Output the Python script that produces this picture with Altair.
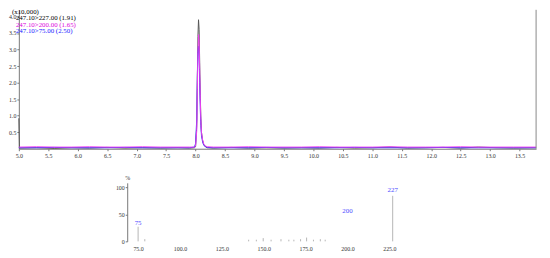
import altair as alt
import pandas as pd

# ---------------- chromatogram data ----------------
times = [5.0, 5.01, 5.3, 5.6, 5.9, 6.2, 6.5, 6.8, 7.1, 7.4, 7.7, 7.9,
         7.98, 8.0, 8.02, 8.03, 8.04, 8.05, 8.06, 8.07, 8.08, 8.09, 8.10, 8.12, 8.14, 8.17, 8.2,
         8.3, 8.6, 8.9, 9.2, 9.5, 9.8, 10.1, 10.4, 10.7, 11.0, 11.3, 11.6, 11.9, 12.2, 12.5,
         12.8, 13.1, 13.4, 13.78]
trace_227 = [0.92, 0.02, 0.03, 0.01, 0.03, 0.02, 0.04, 0.02, 0.03, 0.02, 0.03, 0.02,
             0.03, 0.06, 0.7, 2.1, 3.4, 3.9, 3.6, 2.6, 1.6, 0.9, 0.5, 0.25, 0.12, 0.06, 0.03,
             0.02, 0.04, 0.02, 0.03, 0.02, 0.03, 0.02, 0.04, 0.02, 0.03, 0.05, 0.02, 0.03, 0.04,
             0.02, 0.05, 0.03, 0.02, 0.03]
trace_200 = [0.05, 0.05, 0.06, 0.05, 0.05, 0.06, 0.05, 0.05, 0.06, 0.05, 0.05, 0.05,
             0.05, 0.08, 0.55, 1.8, 2.9, 3.45, 3.25, 2.4, 1.5, 0.85, 0.5, 0.26, 0.14, 0.08, 0.06,
             0.05, 0.05, 0.06, 0.05, 0.05, 0.05, 0.06, 0.05, 0.05, 0.05, 0.06, 0.05, 0.05, 0.05,
             0.06, 0.05, 0.05, 0.05, 0.05]
trace_75 = [0.03, 0.03, 0.03, 0.04, 0.03, 0.03, 0.03, 0.04, 0.03, 0.03, 0.03, 0.03,
            0.05, 0.15, 0.9, 2.2, 2.9, 3.1, 2.8, 2.0, 1.2, 0.7, 0.4, 0.2, 0.1, 0.06, 0.04,
            0.03, 0.03, 0.03, 0.04, 0.03, 0.03, 0.03, 0.03, 0.04, 0.03, 0.03, 0.03, 0.03, 0.04,
            0.03, 0.03, 0.03, 0.03, 0.03]
legend_texts = ["(x10,000)", "247.10>227.00 (1.91)", "247.10>200.00 (1.65)", "247.10>75.00 (2.50)"]
legend_colors = ["#000000", "#000000", "#dd00dd", "#1a1aff"]
trace_colors = ["#555555", "#f040f0", "#3333ff"]
top_x_ticks = [5.0, 5.5, 6.0, 6.5, 7.0, 7.5, 8.0, 8.5, 9.0, 9.5, 10.0, 10.5, 11.0, 11.5,
               12.0, 12.5, 13.0, 13.5]
top_y_ticks = [0.5, 1.0, 1.5, 2.0, 2.5, 3.0, 3.5, 4.0]

# ---------------- mass spectrum data ----------------
ms_mz = [75, 79, 141, 145.6, 149.7, 154.4, 160.3, 165, 168, 172, 175.6, 179.7, 183.8, 186.7, 227]
ms_pct = [27, 4, 3, 3, 6, 3, 4, 3, 3, 4, 7, 3, 4, 3, 84]
ms_label_mz = [75, 200, 227]
ms_label_pos = [34.5, 56, 94.5]
ms_label_text = ["75", "200", "227"]
ms_x_ticks = [75, 100, 125, 150, 175, 200, 225]
ms_y_ticks = [0, 50, 100]

FONT = "Liberation Serif"
W, H = 525, 141

top_x_scale = alt.Scale(domain=[5.0, 13.78], range=[0, W], nice=False, zero=False)
top_y_scale = alt.Scale(domain=[0, 4.2], range=[H, 0], nice=False, zero=False)
ms_x_scale = alt.Scale(domain=[68.5, 235], range=[110, 110 + 166.5 * 1.7], nice=False, zero=False)
ms_y_scale = alt.Scale(domain=[0, 108], range=[235, 175.6], nice=False, zero=False)

axis_common = dict(labelFont=FONT, labelFontSize=6, labelColor="#333333", domainColor="#777777",
                   tickColor="#777777", grid=False, labelFlush=False, labelOverlap=False)

top_x_axis = alt.Axis(orient="bottom", values=top_x_ticks, format=".1f", tickSize=2, labelPadding=2,
                      title=None, **axis_common)
top_y_axis = alt.Axis(orient="left", values=top_y_ticks, format=".1f", tickSize=2, labelPadding=1,
                      title=None, **axis_common)
ms_x_axis = alt.Axis(orient="bottom", values=ms_x_ticks, format=".1f", domain=False, ticks=False,
                     labelPadding=4, offset=94, title=None, **axis_common)
ms_y_axis = alt.Axis(orient="left", values=ms_y_ticks, format="d", tickSize=2, labelPadding=1,
                     offset=-110, title="%", titleAngle=0, titleFont=FONT, titleFontSize=6,
                     titleFontWeight="normal", titleX=0, titleY=170, titleAlign="center",
                     titleBaseline="middle", titleColor="#333333", **axis_common)

traces = [trace_227, trace_75, trace_200]
colors = [trace_colors[0], trace_colors[2], trace_colors[1]]
layers = []
for i, (vals, col) in enumerate(zip(traces, colors)):
    df = pd.DataFrame({"t": times, "v": vals})
    layers.append(
        alt.Chart(df).mark_line(color=col, strokeWidth=1, clip=False).encode(
            x=alt.X("t:Q", scale=top_x_scale, axis=top_x_axis if i == 0 else None),
            y=alt.Y("v:Q", scale=top_y_scale, axis=top_y_axis if i == 0 else None),
        )
    )

one = pd.DataFrame({"a": [0]})
frame = alt.Chart(one).mark_rule(color="#888888", strokeWidth=1).encode(
    x=alt.value(W), y=alt.value(0), y2=alt.value(H))
layers.append(frame)

legend_pos = [(-7, 2.5), (-3, 8.5), (-3, 15), (-3, 21.5)]
for txt, col, (lx, ly) in zip(legend_texts, legend_colors, legend_pos):
    layers.append(
        alt.Chart(one).mark_text(font=FONT, fontSize=7, align="left", baseline="middle", color=col).encode(
            x=alt.value(lx), y=alt.value(ly), text=alt.value(txt))
    )

ms_df = pd.DataFrame({"mz": ms_mz, "pct": ms_pct})
ms_bars = alt.Chart(ms_df).mark_rule(color="#b5b5b5", strokeWidth=1).encode(
    x=alt.X("mz:Q", scale=ms_x_scale, axis=ms_x_axis),
    y=alt.Y("pct:Q", scale=ms_y_scale, axis=ms_y_axis),
    y2=alt.datum(0),
)
layers.append(ms_bars)

lab_df = pd.DataFrame({"mz": ms_label_mz, "pos": ms_label_pos, "txt": ms_label_text})
ms_labels = alt.Chart(lab_df).mark_text(font=FONT, fontSize=7, color="#4a4aff", baseline="middle").encode(
    x=alt.X("mz:Q", scale=ms_x_scale, axis=None),
    y=alt.Y("pos:Q", scale=ms_y_scale, axis=None),
    text="txt:N",
)
layers.append(ms_labels)

chart = alt.layer(*layers).resolve_scale(x="independent", y="independent").properties(
    width=W, height=H,
    autosize=alt.AutoSizeParams(type="none"),
    padding={"left": 11, "top": 0, "right": 6, "bottom": 106},
).configure_view(stroke=None)

chart.save("out.html", embed_options={"renderer": "svg", "actions": False})
